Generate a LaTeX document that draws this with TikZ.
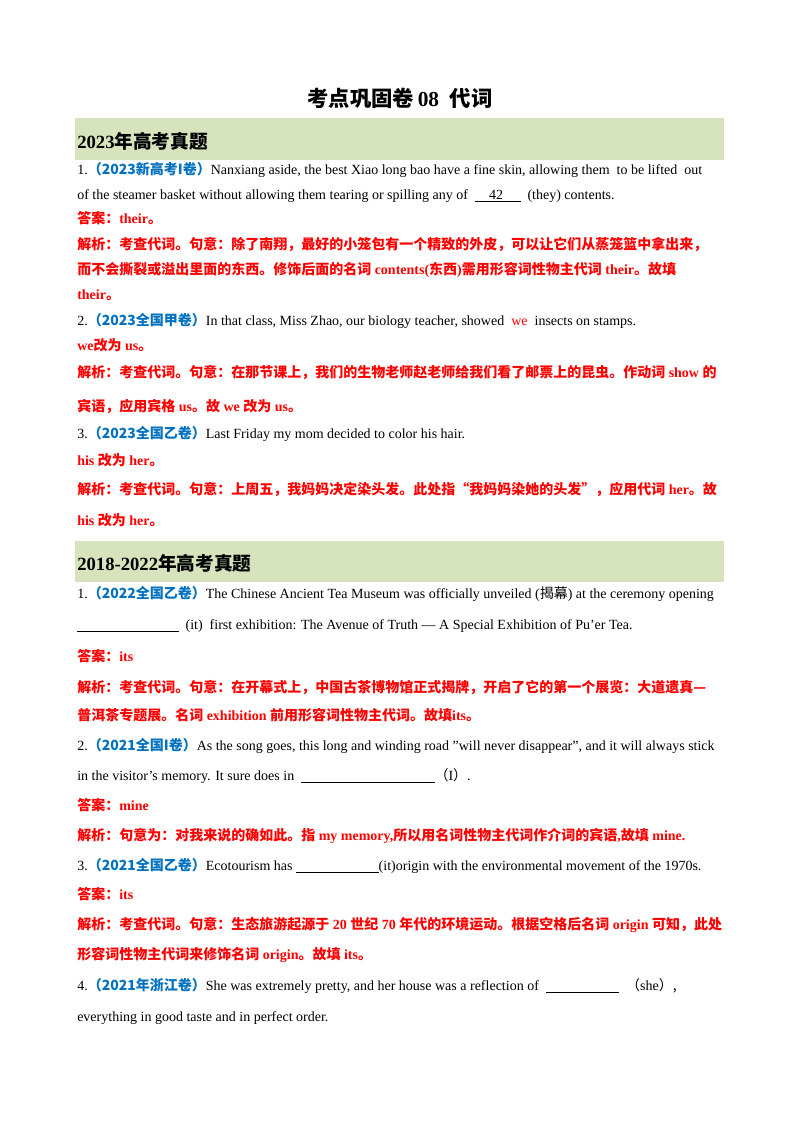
\documentclass[tikz,border=0pt]{standalone}
\usepackage{fontspec}
\setmainfont{Liberation Serif}
\newfontfamily\cjk{Noto Sans CJK SC}
\definecolor{barg}{RGB}{214,227,188}
\definecolor{lblue}{RGB}{0,112,192}
\definecolor{ared}{RGB}{255,0,0}
\newcommand{\C}[1]{{\cjk #1}}
\newcommand{\B}[1]{{\color{lblue}\bfseries\cjk #1}}
\begin{document}
\begin{tikzpicture}[x=0.75pt,y=-0.75pt,
  ln/.style={anchor=base west,inner sep=0pt,font=\fontsize{10.5}{12}\selectfont},
  rd/.style={ln,text=ared,font=\fontsize{10.5}{12}\selectfont\bfseries},
  hd/.style={anchor=base west,inner sep=0pt,font=\fontsize{14}{16}\selectfont\bfseries}]
\useasboundingbox (0,0) rectangle (800,1132);
\fill[white] (0,0) rectangle (800,1132);
\node[anchor=base,inner sep=0pt,font=\fontsize{16}{18}\selectfont\bfseries] (title) at (400,106) {\C{考点巩固卷}\,08\ \ \C{代词}};
\fill[barg] (75,118) rectangle (724,160);
\fill[barg] (75,541) rectangle (724,582);
\node[hd] (h1) at (77,148) {2023\C{年高考真题}};
\node[hd] (h2) at (77,570) {2018-2022\C{年高考真题}};
% section 1
\node[ln] (a1) at (77,174) {1.\B{（2023新高考I卷）}Nanxiang aside, the best Xiao long bao have a fine skin, allowing them\ \ to be lifted\ \ out};
\node[ln] (a2) at (77,199) {of the steamer basket without allowing them tearing or spilling any of\ \ \underline{\ \ \ \ 42\ \ \ \ \ }\ \ (they) contents.};
\node[rd] (a3) at (77,223) {\C{答案：}their\C{。}};
\node[rd] (a4) at (77,249) {\C{解析：考查代词。句意：除了南翔，最好的小笼包有一个精致的外皮，可以让它们从蒸笼篮中拿出来，}};
\node[rd] (a5) at (77,274) {\C{而不会撕裂或溢出里面的东西。修饰后面的名词} contents(\C{东西})\C{需用形容词性物主代词} their\C{。故填}};
\node[rd] (a6) at (77,299) {their\C{。}};
\node[ln] (b1) at (77,325) {2.\B{（2023全国甲卷）}In that class, Miss Zhao, our biology teacher, showed\ \ {\color{ared}we}\ \ insects on stamps.};
\node[rd] (b2) at (77,350) {we\C{改为} us\C{。}};
\node[rd] (b3) at (77,377) {\C{解析：考查代词。句意：在那节课上，我们的生物老师赵老师给我们看了邮票上的昆虫。作动词} show \C{的}};
\node[rd] (b4) at (77,411) {\C{宾语，应用宾格} us\C{。故} we \C{改为} us\C{。}};
\node[ln] (c1) at (77,438) {3.\B{（2023全国乙卷）}Last Friday my mom decided to color his hair.};
\node[rd] (c2) at (77,465) {his \C{改为} her\C{。}};
\node[rd] (c3) at (77,494) {\C{解析：考查代词。句意：上周五，我妈妈决定染头发。此处指“我妈妈染她的头发”，应用代词} her\C{。故}};
\node[rd] (c4) at (77,525) {his \C{改为} her\C{。}};
% section 2
\node[ln] (d1) at (77,598) {1.\B{（2022全国乙卷）}The Chinese Ancient Tea Museum was officially unveiled (\C{揭幕}) at the ceremony opening};
\node[ln] (d2) at (77,629) {\underline{\hspace{76pt}}\ \ (it)\ \ first exhibition: The Avenue of Truth — A Special Exhibition of Pu'er Tea.};
\node[rd] (d3) at (77,661) {\C{答案：}its};
\node[rd] (d4) at (77,692) {\C{解析：考查代词。句意：在开幕式上，中国古茶博物馆正式揭牌，开启了它的第一个展览：大道遗真—}};
\node[rd] (d5) at (77,720) {\C{普洱茶专题展。名词} exhibition \C{前用形容词性物主代词。故填}its\C{。}};
\node[ln] (e1) at (77,750) {2.\B{（2021全国I卷）}As the song goes, this long and winding road "will never disappear", and it will always stick};
\node[ln] (e2) at (77,780) {in the visitor's memory. It sure does in\ \ \underline{\hspace{100pt}}\C{（}I\C{）}.};
\node[rd] (e3) at (77,810) {\C{答案：}mine};
\node[rd] (e4) at (77,840) {\C{解析：句意为：对我来说的确如此。指} my memory,\C{所以用名词性物主代词作介词的宾语}{,}\C{故填} mine.};
\node[ln] (f1) at (77,870) {3.\B{（2021全国乙卷）}Ecotourism has \underline{\hspace{62pt}}(it)origin with the environmental movement of the 1970s.};
\node[rd] (f2) at (77,899) {\C{答案：}its};
\node[rd] (f3) at (77,929) {\C{解析：考查代词。句意：生态旅游起源于} 20 \C{世纪} 70 \C{年代的环境运动。根据空格后名词} origin \C{可知，此处}};
\node[rd] (f4) at (77,959) {\C{形容词性物主代词来修饰名词} origin\C{。故填} its\C{。}};
\node[ln] (g1) at (77,990) {4.\B{（2021年浙江卷）}She was extremely pretty, and her house was a reflection of\ \ \underline{\hspace{55pt}}\ \ \C{（}she\C{）,}};
\node[ln] (g2) at (77,1021) {everything in good taste and in perfect order.};
\end{tikzpicture}
\end{document}
